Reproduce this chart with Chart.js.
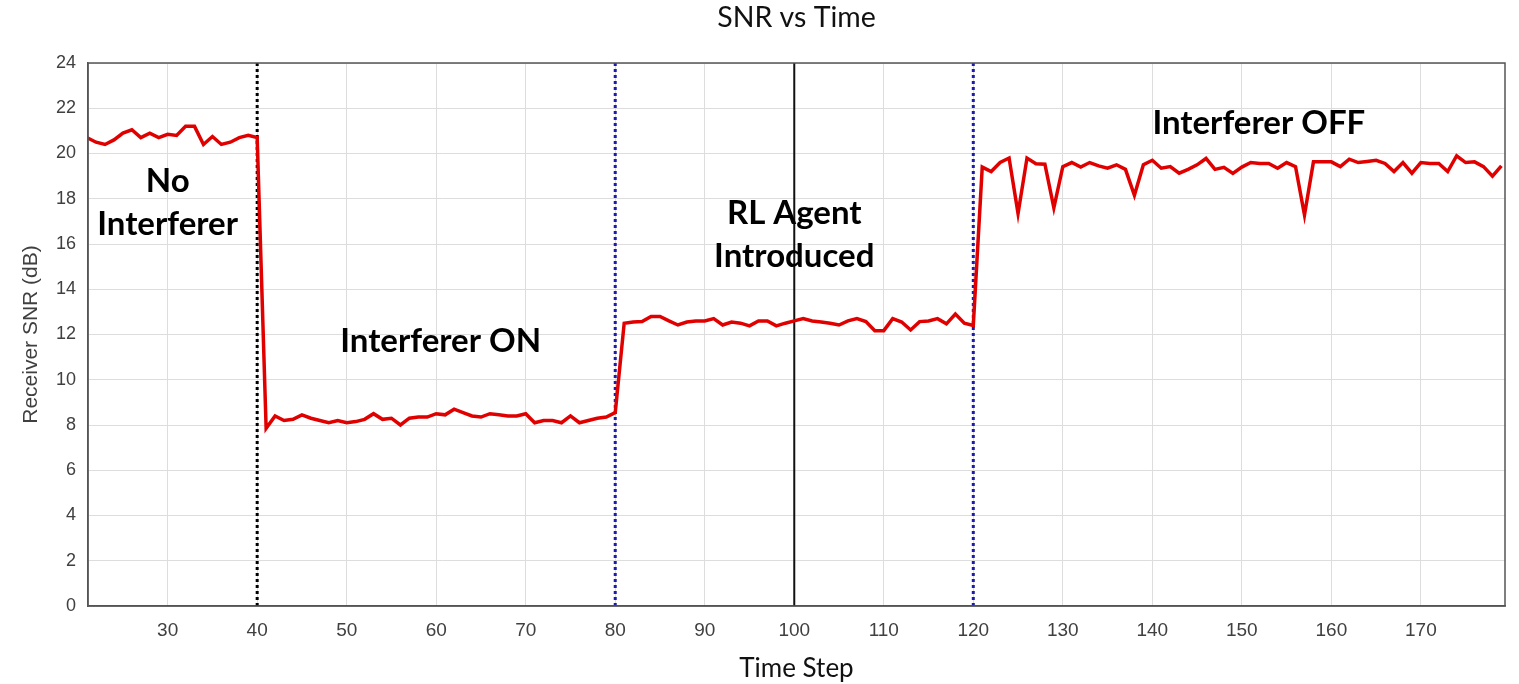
<!DOCTYPE html>
<html>
<head>
<meta charset="utf-8">
<title>SNR vs Time</title>
<script src="https://cdn.jsdelivr.net/npm/chart.js@4.4.1/dist/chart.umd.min.js"></script>
<style>
  html, body { margin: 0; padding: 0; background: #fff; }
  #wrap { width: 1519px; height: 684px; position: relative; }
</style>
</head>
<body>
<div id="wrap"><canvas id="snrChart"></canvas></div>
<script>
// datos (un valor por paso de tiempo)
const pasoInicio = 21;
const snrNoInterferer = [20.7, 20.5, 20.4, 20.6, 20.9, 21.05, 20.7, 20.9, 20.7, 20.85,
  20.8, 21.2, 21.2, 20.4, 20.75, 20.4, 20.5, 20.7, 20.8, 20.7];               // t 21-40
const snrInterfererOn = [7.85, 8.4, 8.2, 8.25, 8.45, 8.3, 8.2, 8.1, 8.2, 8.1,
  8.15, 8.25, 8.5, 8.25, 8.3, 8.0, 8.3, 8.35, 8.35, 8.5,
  8.45, 8.7, 8.55, 8.4, 8.35, 8.5, 8.45, 8.4, 8.4, 8.5,
  8.1, 8.2, 8.2, 8.1, 8.4, 8.1, 8.2, 8.3, 8.35, 8.55];                        // t 41-80
const snrAgente = [12.5, 12.55, 12.57, 12.8, 12.8, 12.6, 12.42, 12.55, 12.6, 12.6,
  12.7, 12.42, 12.55, 12.5, 12.38, 12.6, 12.6, 12.38, 12.5, 12.6,
  12.7, 12.6, 12.55, 12.5, 12.42, 12.6, 12.7, 12.57, 12.17, 12.17,
  12.7, 12.55, 12.2, 12.57, 12.6, 12.7, 12.47, 12.9, 12.5, 12.4];             // t 81-120
const snrInterfererOff = [19.4, 19.2, 19.6, 19.8, 17.35, 19.8, 19.55, 19.53, 17.6, 19.42,
  19.6, 19.4, 19.6, 19.45, 19.35, 19.5, 19.3, 18.15, 19.5, 19.7,
  19.35, 19.42, 19.13, 19.3, 19.5, 19.78, 19.3, 19.39, 19.12, 19.4,
  19.6, 19.56, 19.56, 19.35, 19.6, 19.42, 17.28, 19.63, 19.63, 19.63,
  19.42, 19.75, 19.6, 19.65, 19.7, 19.56, 19.2, 19.6, 19.13, 19.6,
  19.56, 19.56, 19.2, 19.9, 19.6, 19.63, 19.42, 19.0, 19.45];                 // t 121-179

const xTicks = [30, 40, 50, 60, 70, 80, 90, 100, 110, 120, 130, 140, 150, 160, 170];
const yTicks = [0, 2, 4, 6, 8, 10, 12, 14, 16, 18, 20, 22, 24];

// lineas verticales de eventos
const eventos = [
  { t: 40, color: '#000000', dash: [3, 3], ancho: 3 },
  { t: 80, color: '#1c1ca8', dash: [3, 3], ancho: 3 },
  { t: 100, color: '#111111', dash: [], ancho: 2 },
  { t: 120, color: '#1c1ca8', dash: [3, 3], ancho: 3 }
];

// textos sobre el grafico
const notas = [
  { lineas: ['No', 'Interferer'], t: 30, v: 18.75 },
  { lineas: ['Interferer ON'], t: 60.5, v: 11.7 },
  { lineas: ['RL Agent', 'Introduced'], t: 100, v: 17.35 },
  { lineas: ['Interferer OFF'], t: 151.9, v: 21.35 }
];

const snr = [...snrNoInterferer, ...snrInterfererOn, ...snrAgente, ...snrInterfererOff];
const puntos = snr.map((v, i) => ({ x: pasoInicio + i, y: v }));

const datasets = eventos.map(e => ({
  data: [{ x: e.t, y: 0 }, { x: e.t, y: 24 }],
  borderColor: e.color,
  borderWidth: e.ancho,
  borderDash: e.dash,
  pointRadius: 0,
  order: 2
}));
datasets.push({
  label: 'SNR',
  data: puntos,
  borderColor: '#e00000',
  borderWidth: 3.5,
  pointRadius: 0,
  tension: 0,
  order: 1
});

// marco del area y textos
const marcoNotas = {
  id: 'marcoNotas',
  afterDatasetsDraw(chart) {
    const { ctx, chartArea: a, scales } = chart;
    ctx.save();
    ctx.strokeStyle = '#555';
    ctx.lineWidth = 1.5;
    ctx.strokeRect(a.left, a.top, a.right - a.left, a.bottom - a.top);
    ctx.fillStyle = '#000';
    ctx.font = 'bold 33px Lato';
    ctx.textAlign = 'center';
    ctx.textBaseline = 'middle';
    notas.forEach(n => {
      const x = scales.x.getPixelForValue(n.t);
      const y = scales.y.getPixelForValue(n.v);
      n.lineas.forEach((l, i) => ctx.fillText(l, x, y + i * 43));
    });
    ctx.restore();
  }
};

const ctx = document.getElementById('snrChart').getContext('2d');
new Chart(ctx, {
  type: 'line',
  data: { datasets: datasets },
  options: {
    responsive: true,
    maintainAspectRatio: false,
    animation: false,
    layout: { padding: { left: 0, right: 14, top: 0, bottom: 0 } },
    plugins: {
      legend: { display: false },
      tooltip: { enabled: false },
      title: {
        display: true,
        text: 'SNR vs Time',
        fullSize: false,
        color: '#111',
        font: { family: 'Lato', size: 28.5, weight: 'normal' },
        padding: { top: 1, bottom: 27.8 }
      }
    },
    scales: {
      x: {
        type: 'linear',
        min: 21.1,
        max: 179.4,
        afterBuildTicks: axis => { axis.ticks = xTicks.map(v => ({ value: v })); },
        afterFit: scale => { scale.height = 78; },
        ticks: { color: '#404040', font: { family: 'Liberation Sans', size: 19 }, padding: 13 },
        grid: { color: '#dddddd', drawTicks: false },
        border: { color: '#555', width: 1.5 },
        title: {
          display: true,
          text: 'Time Step',
          color: '#111',
          font: { family: 'Lato', size: 26 },
          padding: { top: 0, bottom: 0 }
        }
      },
      y: {
        min: 0,
        max: 24,
        afterBuildTicks: axis => { axis.ticks = yTicks.map(v => ({ value: v })); },
        afterFit: scale => { scale.width = 88; },
        ticks: { color: '#404040', font: { family: 'Liberation Sans', size: 18 }, padding: 12 },
        grid: { color: '#dddddd', drawTicks: false },
        border: { color: '#555', width: 1.5 },
        title: {
          display: true,
          text: 'Receiver SNR (dB)',
          color: '#404040',
          font: { family: 'Liberation Sans', size: 21 },
          padding: { top: 18.4, bottom: 0 }
        }
      }
    }
  },
  plugins: [marcoNotas]
});
</script>
</body>
</html>
